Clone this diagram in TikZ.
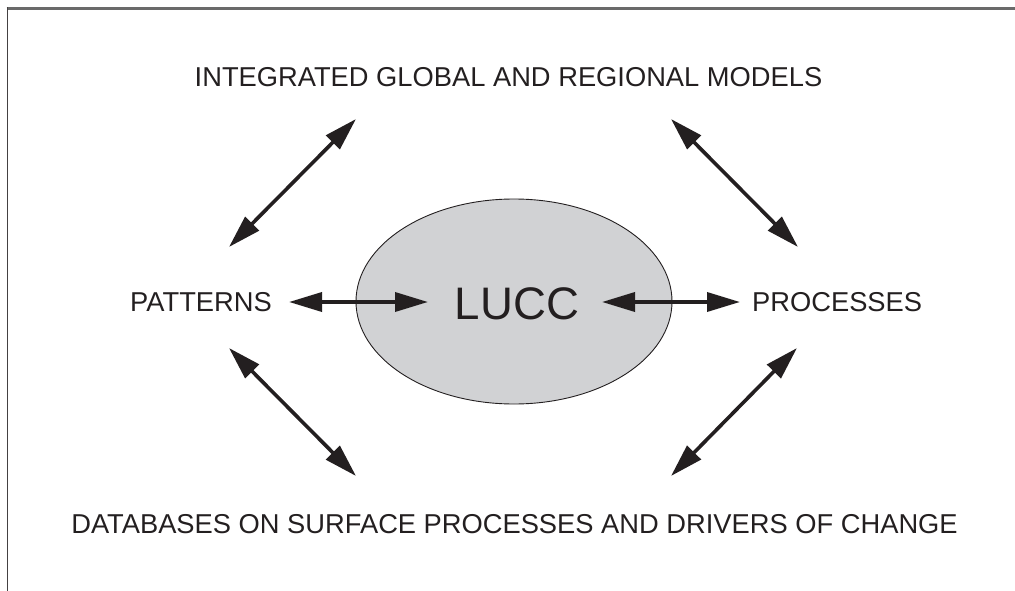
\documentclass[tikz,border=0pt]{standalone}
\usepackage{fontspec}
\setmainfont{Liberation Sans}
\usetikzlibrary{arrows.meta,shapes.geometric}
\definecolor{ink}{HTML}{231F20}
\definecolor{blobfill}{HTML}{D1D2D4}
\definecolor{framegray}{HTML}{6A6A6A}
\tikzset{
  label27/.style={inner sep=0pt, text=ink, font=\fontsize{27.3}{32}\selectfont},
  dblarrow/.style={draw=ink, line width=3.6pt,
    {Triangle[length=33pt,width=19pt]}-{Triangle[length=33pt,width=19pt]}},
}
\begin{document}
\begin{tikzpicture}[x=1pt,y=-1pt]
\useasboundingbox (0,0) rectangle (1015,591);
% frame
\draw[framegray, line width=2.2pt] (6.5,8.5) -- (1016,8.5);
\draw[ink!85, line width=1.6pt] (7.5,7.5) -- (7.5,592);
% central ellipse
\node[ellipse, draw=ink, line width=0.9pt, fill=blobfill,
      minimum width=316pt, minimum height=205pt, inner sep=0pt] (lucc) at (514,301.5) {};
\node[anchor=base, inner sep=0pt, text=ink, font=\fontsize{45.6}{50}\selectfont] (luccT) at (517,319) {LUCC};
% texts
\node[label27, anchor=base] (top) at (508.5,87) {INTEGRATED GLOBAL AND REGIONAL MODELS};
\node[label27, anchor=base] (bot) at (514.5,533) {DATABASES ON SURFACE PROCESSES AND DRIVERS OF CHANGE};
\node[label27, anchor=base east] (pat) at (272,311) {PATTERNS};
\node[label27, anchor=base west] (pro) at (752,311) {PROCESSES};
% arrow ends
\coordinate (a1) at (229,247);  \coordinate (a2) at (356,119);
\coordinate (b1) at (671,119);  \coordinate (b2) at (798,247);
\coordinate (c1) at (229,348);  \coordinate (c2) at (356,476);
\coordinate (d1) at (797,348);  \coordinate (d2) at (671,476);
\coordinate (e1) at (289,302);  \coordinate (e2) at (428,302);
\coordinate (f1) at (602,302);  \coordinate (f2) at (740,302);
\draw[dblarrow] (a1) -- (a2);
\draw[dblarrow] (b1) -- (b2);
\draw[dblarrow] (c1) -- (c2);
\draw[dblarrow] (d1) -- (d2);
\draw[dblarrow] (e1) -- (e2);
\draw[dblarrow] (f1) -- (f2);
\end{tikzpicture}
\end{document}
